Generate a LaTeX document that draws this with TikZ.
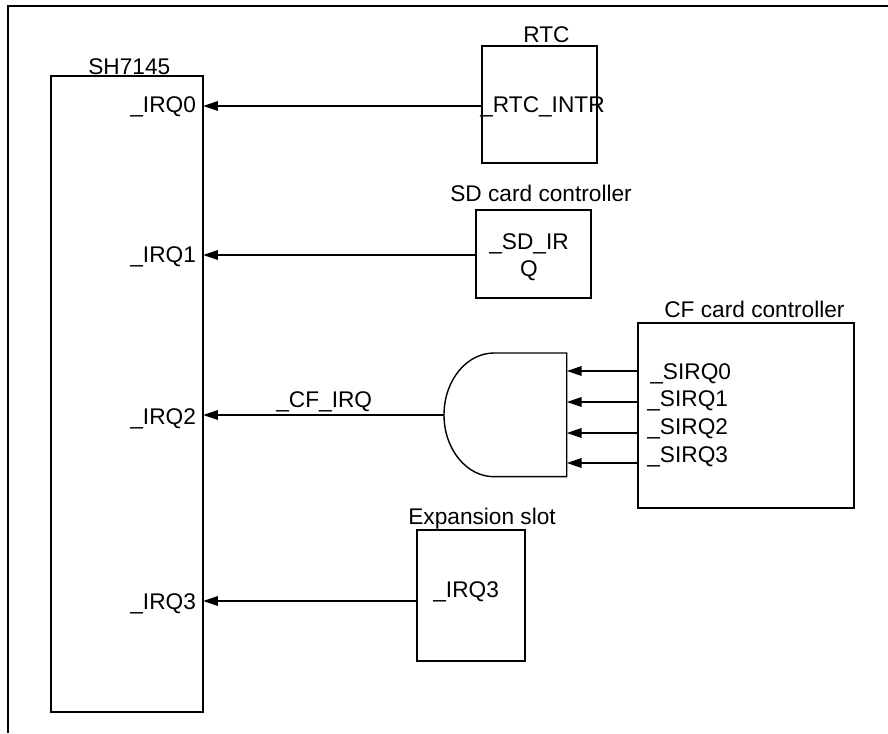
\documentclass[tikz,border=0pt]{standalone}
\usepackage{fontspec}
\setmainfont{Liberation Sans}
\usetikzlibrary{arrows.meta}
\tikzset{
  chip/.style={draw, line width=1pt, inner sep=0pt, outer sep=0pt},
  lbl/.style={anchor=base west, inner sep=0pt, font=\fontsize{12.9}{15.4}\selectfont},
  sig/.style={line width=1pt, -{Triangle[length=8.5pt,width=5.4pt]}}
}
\begin{document}
\begin{tikzpicture}

\useasboundingbox (0,0) rectangle (17.76,14.66);

\draw [line width=1pt] (0.16,0) -- (0.16,14.54) -- (17.76,14.54);

\node[chip, minimum width=3.04cm, minimum height=12.72cm] (sh7145) at (2.54,6.78) {};
\node[chip, minimum width=2.30cm, minimum height=2.34cm] (rtc) at (10.79,12.57) {};
\node[chip, minimum width=2.30cm, minimum height=1.76cm] (sd) at (10.67,9.58) {};
\node[chip, minimum width=4.32cm, minimum height=3.70cm] (cf) at (14.92,6.35) {};
\node[chip, minimum width=2.16cm, minimum height=2.62cm] (slot) at (9.42,2.75) {};

\draw [line width=0.8pt] (9.88,7.6) arc [start angle=90, end angle=270, x radius=1.0, y radius=1.237] -- (11.334,5.126) -- (11.334,7.6) -- cycle;

\coordinate (irq0) at (4.06,12.54);
\coordinate (irq1) at (4.06,9.56);
\coordinate (irq2) at (4.06,6.36);
\coordinate (irq3) at (4.06,2.64);
\coordinate (andout) at (8.88,6.36);
\coordinate (and0) at (11.334,7.24);
\coordinate (and1) at (11.334,6.62);
\coordinate (and2) at (11.334,6.0);
\coordinate (and3) at (11.334,5.4);

\draw [sig] (rtc.west |- irq0) -- (irq0);
\draw [sig] (sd.west |- irq1) -- (irq1);
\draw [sig] (andout) -- (irq2);
\draw [sig] (slot.west |- irq3) -- (irq3);
\draw [sig] (cf.west |- and0) -- (and0);
\draw [sig] (cf.west |- and1) -- (and1);
\draw [sig] (cf.west |- and2) -- (and2);
\draw [sig] (cf.west |- and3) -- (and3);

\node[lbl] (shname) at (1.76,13.16) {SH7145};
\node[lbl] (irq0name) at (2.6,12.4) {\_IRQ0};
\node[lbl] (irq1name) at (2.6,9.4) {\_IRQ1};
\node[lbl] (irq2name) at (2.6,6.18) {\_IRQ2};
\node[lbl] (irq3name) at (2.6,2.48) {\_IRQ3};
\node[lbl] (rtcname) at (10.46,13.8) {RTC};
\node[lbl] (rtcintr) at (9.6,12.4) {\_RTC\_INTR};
\node[lbl] (sdname) at (9.0,10.62) {SD card controller};
\node[lbl, anchor=center, align=center] (sdirq) at (10.58,9.52) {\_SD\_IR\\Q};
\node[lbl] (cfname) at (13.28,8.3) {CF card controller};
\node[lbl] (sirq0) at (13.0,7.08) {\_SIRQ0};
\node[lbl] (sirq1) at (12.94,6.54) {\_SIRQ1};
\node[lbl] (sirq2) at (12.94,5.98) {\_SIRQ2};
\node[lbl] (sirq3) at (12.94,5.42) {\_SIRQ3};
\node[lbl] (cfirq) at (5.52,6.52) {\_CF\_IRQ};
\node[lbl] (slotname) at (8.16,4.18) {Expansion slot};
\node[lbl] (slotirq) at (8.66,2.72) {\_IRQ3};

\end{tikzpicture}
\end{document}
